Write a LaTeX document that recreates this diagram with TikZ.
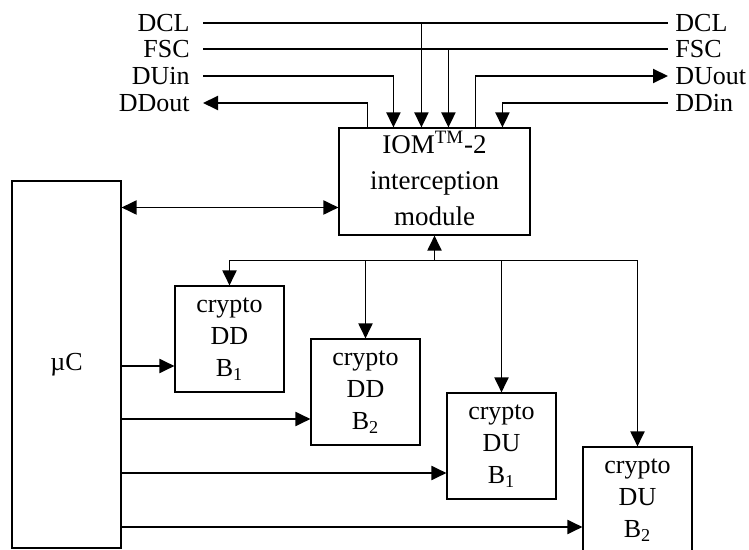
\documentclass[tikz,border=0pt]{standalone}
\usepackage{fontspec}
\setmainfont{Liberation Serif}
\usetikzlibrary{arrows.meta}
\tikzset{
  unitbox/.style={draw=black, line width=0.55pt, inner sep=0pt, align=center, font=\fontsize{13}{16}\selectfont},
  cryptobox/.style={unitbox, minimum width=54.5pt, minimum height=53pt},
  sigleft/.style={anchor=east, inner xsep=6.5pt, inner ysep=0pt, font=\fontsize{13}{16}\selectfont},
  sigright/.style={anchor=west, inner xsep=3.5pt, inner ysep=0pt, font=\fontsize{13}{16}\selectfont},
  wire/.style={line width=0.95pt, draw=black},
  feed/.style={wire, -{Triangle[length=7.5pt,width=7pt]}},
  duplex/.style={wire, {Triangle[length=7.5pt,width=7pt]}-{Triangle[length=7.5pt,width=7pt]}},
}

\begin{document}
\begin{tikzpicture}[x=0.5pt,y=-0.5pt]
\useasboundingbox (0,0) rectangle (749,550);
% blocks
\node[unitbox, minimum width=95.5pt, minimum height=53.5pt, font=\fontsize{13.5}{18}\selectfont] (iom) at (434.5,181.5) {IOM\textsuperscript{TM}-2\\interception\\module\rule{0pt}{0pt}\vspace{3pt}};
\node[unitbox, minimum width=54.5pt, minimum height=183.5pt] (uc) at (66.5,364.5) {µC};
\node[cryptobox] (ddb1) at (229.5,339) {crypto\\DD\\B\textsubscript{1}};
\node[cryptobox] (ddb2) at (365.5,392) {crypto\\DD\\B\textsubscript{2}};
\node[cryptobox] (dub1) at (501.5,446) {crypto\\DU\\B\textsubscript{1}};
\node[cryptobox] (dub2) at (637.5,500) {crypto\\DU\\B\textsubscript{2}};
% signal names
\node[sigleft] (lDCL) at (203,23) {DCL};
\node[sigleft] (lFSC) at (203,49) {FSC};
\node[sigleft] (lDUin) at (203,76) {DUin};
\node[sigleft] (lDDout) at (203,103) {DDout};
\node[sigright] (rDCL) at (668,23) {DCL};
\node[sigright] (rFSC) at (668,49) {FSC};
\node[sigright] (rDUout) at (668,76) {DUout};
\node[sigright] (rDDin) at (668,103) {DDin};
% ports
\coordinate (pDDout) at ([xshift=14.5pt]iom.north west);
\coordinate (pDUin) at ([xshift=27.5pt]iom.north west);
\coordinate (pDCL) at ([xshift=41.5pt]iom.north west);
\coordinate (pFSC) at ([xshift=55pt]iom.north west);
\coordinate (pDUout) at ([xshift=68.5pt]iom.north west);
\coordinate (pDDin) at ([xshift=82pt]iom.north west);
\coordinate (link) at ([yshift=-13pt]iom.west);
\coordinate (bus) at ([yshift=-12.5pt]iom.south);
\coordinate (ddb1in) at ([yshift=-13.5pt]ddb1.west);
\coordinate (ddb2in) at ([yshift=-13.5pt]ddb2.west);
\coordinate (dub1in) at ([yshift=-13.5pt]dub1.west);
\coordinate (dub2in) at ([yshift=-13.5pt]dub2.west);
% IOM lines
\draw[wire] (lDCL) -- (rDCL);
\draw[wire] (lFSC) -- (rFSC);
\draw[feed] (pDCL |- lDCL) -- (pDCL);
\draw[feed] (pFSC |- lFSC) -- (pFSC);
\draw[feed] (lDUin) -| (pDUin);
\draw[feed] (pDDout) |- (lDDout);
\draw[feed] (pDUout) |- (rDUout);
\draw[feed] (rDDin) -| (pDDin);
% controller
\draw[duplex] (uc.east |- link) -- (link);
\draw[feed] (uc.east |- ddb1in) -- (ddb1in);
\draw[feed] (uc.east |- ddb2in) -- (ddb2in);
\draw[feed] (uc.east |- dub1in) -- (dub1in);
\draw[feed] (uc.east |- dub2in) -- (dub2in);
% crypto bus
\draw[feed] (bus) -- (iom.south);
\draw[feed] (bus) -| (ddb1.north);
\draw[feed] (bus) -| (ddb2.north);
\draw[feed] (bus) -| (dub1.north);
\draw[feed] (bus) -| (dub2.north);
\end{tikzpicture}
\end{document}
